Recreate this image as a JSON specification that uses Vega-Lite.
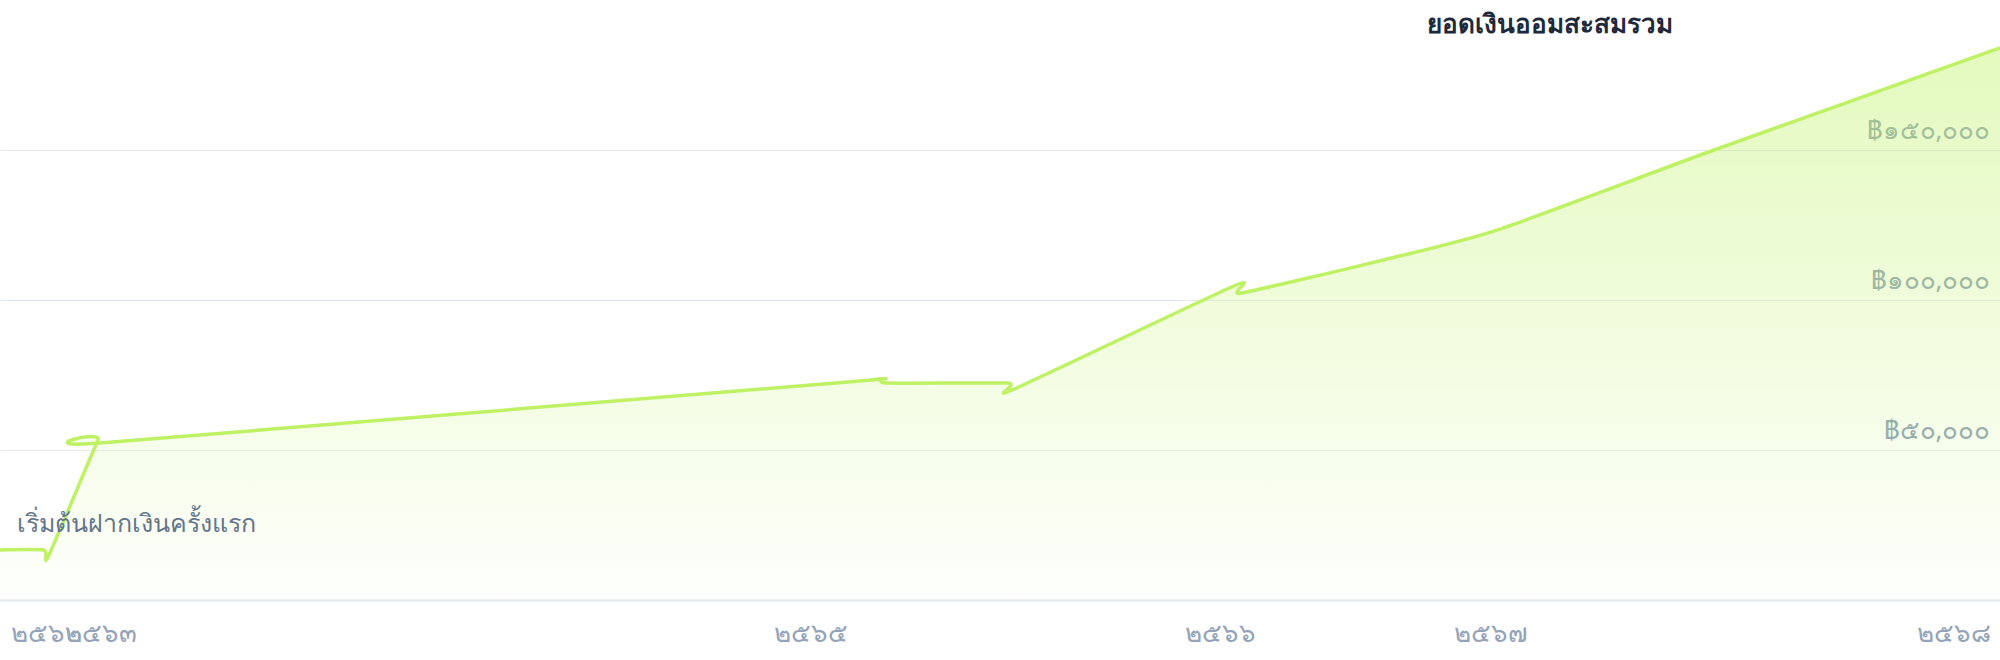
{
  "$schema": "https://vega.github.io/schema/vega-lite/v6.json",
  "width": 2000,
  "height": 600,
  "autosize": {"type": "none"},
  "padding": {"left": 0, "top": 0, "right": 0, "bottom": 60},
  "background": "white",
  "config": {"view": {"stroke": null}, "font": "Noto Sans"},
  "datasets": {
    "series": [
      {"day": 0, "v": 16700},
      {"day": 8.8, "v": 16700},
      {"day": 9.6, "v": 14300},
      {"day": 19.6, "v": 53300},
      {"day": 20, "v": 52300},
      {"day": 169, "v": 72600},
      {"day": 174, "v": 73300},
      {"day": 176.4, "v": 73700},
      {"day": 177.6, "v": 72300},
      {"day": 201.6, "v": 72300},
      {"day": 202.4, "v": 70000},
      {"day": 247.2, "v": 105000},
      {"day": 248.2, "v": 102300},
      {"day": 276.6, "v": 113300},
      {"day": 299.4, "v": 123300},
      {"day": 342.8, "v": 150000},
      {"day": 400, "v": 184000}
    ]
  },
  "layer": [
    {
      "data": {"name": "series"},
      "mark": {
        "type": "area",
        "interpolate": "cardinal",
        "tension": 0.4,
        "color": {
          "gradient": "linear",
          "x1": 0, "y1": 0, "x2": 0, "y2": 1,
          "stops": [
            {"offset": 0, "color": "rgba(190,242,100,0.42)"},
            {"offset": 1, "color": "rgba(190,242,100,0.02)"}
          ]
        }
      },
      "encoding": {
        "x": {
          "field": "day",
          "type": "quantitative",
          "scale": {"domain": [0, 400], "nice": false, "zero": false},
          "axis": {
            "title": null,
            "values": [0, 20, 162, 244, 298, 400],
            "labelExpr": "datum.value == 0 ? '๒๕๖๒' : datum.value == 20 ? '๒๕๖๓' : datum.value == 162 ? '๒๕๖๕' : datum.value == 244 ? '๒๕๖๖' : datum.value == 298 ? '๒๕๖๗' : '๒๕๖๘'",
            "labelOverlap": false,
            "grid": false,
            "ticks": false,
            "domainColor": "#e2e8f0",
            "domainWidth": 2,
            "labelColor": "#94a3b8",
            "labelFontSize": 26,
            "labelFlush": true,
            "labelFlushOffset": -10,
            "labelPadding": 20
          }
        },
        "y": {
          "field": "v",
          "type": "quantitative",
          "scale": {"domain": [0, 200000], "nice": false},
          "axis": {
            "title": null,
            "orient": "right",
            "values": [0, 50000, 100000, 150000],
            "labelExpr": "datum.value == 0 ? '' : datum.value == 50000 ? '฿๕๐,๐๐๐' : datum.value == 100000 ? '฿๑๐๐,๐๐๐' : '฿๑๕๐,๐๐๐'",
            "labelOverlap": false,
            "domain": false,
            "ticks": false,
            "gridColor": "#e2e8f0",
            "gridWidth": 1,
            "labelAlign": "right",
            "labelBaseline": "alphabetic",
            "labelPadding": -10,
            "labelOffset": -12,
            "labelColor": "#94a3b8",
            "labelFontSize": 26
          }
        }
      }
    },
    {
      "data": {"name": "series"},
      "mark": {"type": "line", "interpolate": "cardinal", "tension": 0.4, "color": "#bef264", "strokeWidth": 3.5},
      "encoding": {
        "x": {"field": "day", "type": "quantitative"},
        "y": {"field": "v", "type": "quantitative"}
      }
    },
    {
      "data": {"values": [{"day": 310, "v": 189000, "label": "ยอดเงินออมสะสมรวม"}]},
      "mark": {"type": "text", "fontSize": 26, "fontWeight": 600, "color": "#1e293b", "align": "center", "baseline": "alphabetic"},
      "encoding": {
        "x": {"field": "day", "type": "quantitative"},
        "y": {"field": "v", "type": "quantitative"},
        "text": {"field": "label"}
      }
    },
    {
      "data": {"values": [{"day": 3.4, "v": 22700, "label": "เริ่มต้นฝากเงินครั้งแรก"}]},
      "mark": {"type": "text", "fontSize": 25, "color": "#64748b", "align": "left", "baseline": "alphabetic"},
      "encoding": {
        "x": {"field": "day", "type": "quantitative"},
        "y": {"field": "v", "type": "quantitative"},
        "text": {"field": "label"}
      }
    }
  ]
}
